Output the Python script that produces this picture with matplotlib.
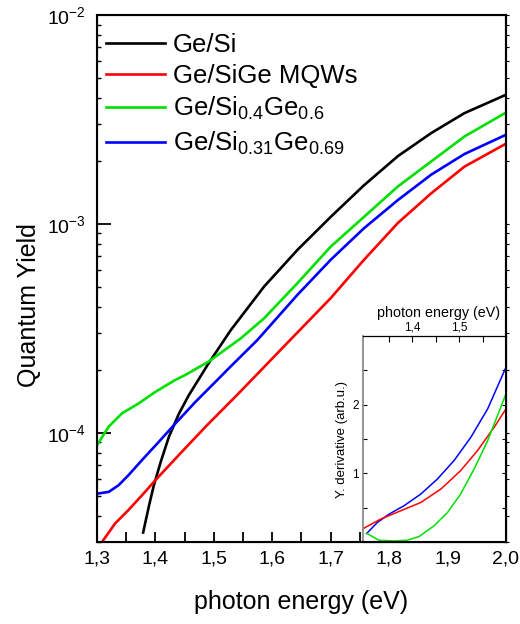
import numpy as np
import matplotlib
matplotlib.use("Agg")
import matplotlib.pyplot as plt
from matplotlib.ticker import FixedLocator, FuncFormatter, LogLocator, NullFormatter

plt.rcParams["font.family"] = ["Liberation Sans", "DejaVu Sans"]
plt.rcParams["mathtext.fontset"] = "custom"
plt.rcParams["mathtext.rm"] = "Liberation Sans"
plt.rcParams["mathtext.it"] = "Liberation Sans"

# main panel: quantum yield vs photon energy
x_gesi = [1.379, 1.389, 1.397, 1.409, 1.423, 1.440, 1.457, 1.491, 1.529, 1.586,
          1.643, 1.700, 1.757, 1.815, 1.872, 1.929, 2.000]
y_gesi = [3.33e-5, 4.47e-5, 5.56e-5, 7.24e-5, 9.55e-5, 1.23e-4, 1.51e-4, 2.15e-4,
          3.10e-4, 5.01e-4, 7.50e-4, 1.08e-3, 1.53e-3, 2.11e-3, 2.72e-3, 3.39e-3,
          4.15e-3]

x_mqw = [1.300, 1.309, 1.331, 1.354, 1.377, 1.400, 1.440, 1.486, 1.537, 1.572,
         1.617, 1.700, 1.757, 1.815, 1.872, 1.929, 2.000]
y_mqw = [2.75e-5, 3.01e-5, 3.68e-5, 4.27e-5, 5.02e-5, 5.93e-5, 7.82e-5, 1.07e-4,
         1.49e-4, 1.88e-4, 2.54e-4, 4.41e-4, 6.73e-4, 1.01e-3, 1.40e-3,
         1.88e-3, 2.42e-3]

x_g06 = [1.300, 1.320, 1.343, 1.371, 1.400, 1.434, 1.451, 1.491, 1.546, 1.586,
         1.643, 1.700, 1.757, 1.815, 1.872, 1.929, 2.000]
y_g06 = [8.71e-5, 1.07e-4, 1.24e-4, 1.38e-4, 1.57e-4, 1.79e-4, 1.89e-4, 2.19e-4,
         2.83e-4, 3.53e-4, 5.20e-4, 7.78e-4, 1.08e-3, 1.51e-3, 1.99e-3, 2.62e-3,
         3.41e-3]

x_g069 = [1.300, 1.320, 1.337, 1.354, 1.377, 1.406, 1.437, 1.469, 1.506, 1.526,
          1.574, 1.643, 1.700, 1.757, 1.815, 1.872, 1.929, 2.000]
y_g069 = [5.11e-5, 5.21e-5, 5.61e-5, 6.27e-5, 7.40e-5, 9.06e-5, 1.13e-4, 1.41e-4,
          1.79e-4, 2.04e-4, 2.77e-4, 4.57e-4, 6.73e-4, 9.53e-4, 1.30e-3, 1.72e-3,
          2.16e-3, 2.67e-3]

# inset: derivative of yield
xi_g069 = [1.302, 1.325, 1.350, 1.382, 1.418, 1.4535, 1.489, 1.525, 1.561, 1.601]
yi_g069 = [0.123, 0.284, 0.406, 0.528, 0.699, 0.918, 1.186, 1.526, 1.941, 2.56]
xi_mqw = [1.296, 1.332, 1.375, 1.418, 1.461, 1.503, 1.539, 1.575, 1.601]
yi_mqw = [0.20, 0.333, 0.455, 0.576, 0.772, 1.039, 1.33, 1.673, 1.95]
xi_g06 = [1.302, 1.328, 1.361, 1.389, 1.414, 1.446, 1.475, 1.503, 1.532, 1.561, 1.601]
yi_g06 = [0.129, 0.026, 0.016, 0.026, 0.079, 0.235, 0.43, 0.699, 1.064, 1.478, 2.175]

labels = ["Ge/Si", "Ge/SiGe MQWs",
          r"Ge/Si$_{0.4}$Ge$_{0.6}$", r"Ge/Si$_{0.31}$Ge$_{0.69}$"]
colors = ["black", "#ff0000", "#00e000", "#0000ff"]

fig = plt.figure(figsize=(5.2, 6.24), dpi=100)
ax = fig.add_axes([0.1865, 0.1314, 0.7865, 0.8446])

series = [(x_gesi, y_gesi), (x_mqw, y_mqw), (x_g06, y_g06), (x_g069, y_g069)]
for (xs, ys), lab, c in zip(series, labels, colors):
    ax.plot(xs, ys, color=c, lw=1.9, label=lab)

ax.set_yscale("log")
ax.set_xlim(1.3, 2.0)
ax.set_ylim(3.0e-5, 1e-2)

ax.xaxis.set_major_locator(FixedLocator(np.arange(1.3, 2.01, 0.1)))
ax.xaxis.set_minor_locator(FixedLocator(np.arange(1.35, 2.0, 0.1)))
ax.xaxis.set_major_formatter(FuncFormatter(lambda v, p: ("%.1f" % v).replace(".", ",")))
ax.tick_params(axis="x", which="both", direction="in", length=7, width=1.3,
               labelsize=14, pad=6, top=False)

ax.yaxis.set_major_locator(LogLocator(base=10, numticks=10))
ax.yaxis.set_minor_locator(LogLocator(base=10, subs=np.arange(2, 10), numticks=10))
ax.yaxis.set_minor_formatter(NullFormatter())
ax.yaxis.set_major_formatter(FuncFormatter(lambda v, p: r"$10^{%d}$" % round(np.log10(v))))
ax.tick_params(axis="y", which="major", direction="in", length=10, width=1.3,
               labelsize=14, pad=8)
ax.tick_params(axis="y", which="minor", direction="in", length=3, width=1.0)

for s in ax.spines.values():
    s.set_linewidth(1.5)

# short outward ticks along the right edge
axr = ax.twinx()
axr.set_yscale("log")
axr.set_ylim(ax.get_ylim())
axr.yaxis.set_major_locator(LogLocator(base=10, numticks=10))
axr.yaxis.set_minor_locator(LogLocator(base=10, subs=np.arange(2, 10), numticks=10))
axr.tick_params(axis="y", which="both", direction="out", length=2.5, width=0.8,
                labelright=False)
axr.spines["right"].set_linewidth(1.5)

ax.set_xlabel("photon energy (eV)", fontsize=18, labelpad=16)
ax.set_ylabel("Quantum Yield", fontsize=18, labelpad=4, y=0.45)

ax.legend(loc="upper left", bbox_to_anchor=(0.022, 0.966), frameon=False,
          fontsize=18.5, handlelength=2.3, handletextpad=0.3, labelspacing=0.28,
          borderpad=0, borderaxespad=0)

# inset
ins = fig.add_axes([0.6987, 0.1314, 0.2743, 0.3301])
ins.plot(xi_g069, yi_g069, color="#0000ff", lw=1.1)
ins.plot(xi_mqw, yi_mqw, color="#ff0000", lw=1.1)
ins.plot(xi_g06, yi_g06, color="#00e000", lw=1.1)
ins.set_xlim(1.295, 1.60)
ins.set_ylim(0, 3)
ins.xaxis.tick_top()
ins.xaxis.set_label_position("top")
ins.xaxis.set_major_locator(FixedLocator([1.4, 1.5]))
ins.xaxis.set_minor_locator(FixedLocator([1.35, 1.45, 1.55]))
ins.xaxis.set_major_formatter(FuncFormatter(lambda v, p: ("%.1f" % v).replace(".", ",")))
ins.tick_params(axis="x", which="both", direction="in", length=4, width=0.8,
                labelsize=8.5, pad=2)
ins.yaxis.set_major_locator(FixedLocator([1, 2]))
ins.yaxis.set_minor_locator(FixedLocator([0.5, 1.5, 2.5]))
ins.tick_params(axis="y", which="both", direction="in", length=3, width=0.8,
                labelsize=8.5, pad=3, right=True)
ins.set_xlabel("photon energy (eV)", fontsize=10.3, labelpad=3, x=0.53)
ins.set_ylabel("Y. derivative (arb.u.)", fontsize=9.5, labelpad=3)
ins.spines["left"].set_color("gray")
ins.spines["left"].set_linewidth(1.2)
ins.spines["top"].set_linewidth(0.9)
ins.spines["right"].set_linewidth(1.5)
ins.spines["bottom"].set_linewidth(1.5)

fig.savefig("out.png", dpi=100)
